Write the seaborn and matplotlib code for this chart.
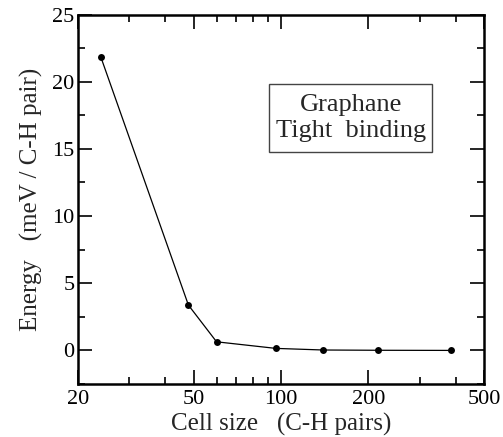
import matplotlib
matplotlib.use("Agg")
import matplotlib.pyplot as plt
import seaborn as sns
import pandas as pd
from matplotlib.patches import Rectangle
from matplotlib.ticker import FixedLocator, NullFormatter, MultipleLocator

sns.set_theme(style="ticks")
plt.rcParams["font.family"] = ["Liberation Serif", "DejaVu Serif"]

# Cell size (C-H pairs) and energy (meV per C-H pair)
cell_size = [24, 48, 60, 96, 140, 216, 384]
energy = [21.8, 3.37, 0.64, 0.15, 0.03, 0.01, 0.0]
x_major = [20, 50, 100, 200, 500]
x_minor = [30, 40, 60, 70, 80, 90, 300, 400]
y_major = [0, 5, 10, 15, 20, 25]

df = pd.DataFrame({"cell": cell_size, "energy": energy})

W, H = 503, 437
fig = plt.figure(figsize=(W / 100, H / 100), dpi=100)
ax = fig.add_axes([78 / W, 1 - 384 / H, (484 - 78) / W, (384 - 14.5) / H])

sns.lineplot(data=df, x="cell", y="energy", ax=ax, color="black", linewidth=0.9,
             marker="o", markersize=5, markeredgewidth=0, markerfacecolor="black")

ax.set_xscale("log")
ax.set_xlim(20, 500)
ax.set_ylim(-2.5, 25)
ax.xaxis.set_major_locator(FixedLocator(x_major))
ax.xaxis.set_minor_locator(FixedLocator(x_minor))
ax.xaxis.set_minor_formatter(NullFormatter())
ax.set_xticklabels([str(v) for v in x_major])
ax.yaxis.set_major_locator(FixedLocator(y_major))
ax.yaxis.set_minor_locator(MultipleLocator(2.5))

ax.tick_params(which="both", direction="in", top=True, right=True, labelsize=16,
               colors="black", width=1.2)
ax.tick_params(which="major", length=10)
ax.tick_params(axis="y", which="major", pad=2.5)
ax.tick_params(axis="x", which="major", pad=4)
ax.tick_params(which="minor", length=5)
for s in ax.spines.values():
    s.set_linewidth(1.8)
    s.set_color("black")

ax.set_xlabel("Cell size   (C-H pairs)", fontsize=18, labelpad=3)
ax.set_ylabel("Energy   (meV / C-H pair)", fontsize=18, labelpad=7)

# Annotation box with the system and method names
bx0, by0, bx1, by1 = 269.3, 84.3, 432.3, 151.7
fig.add_artist(Rectangle((bx0 / W, 1 - by1 / H), (bx1 - bx0) / W, (by1 - by0) / H,
                         transform=fig.transFigure, facecolor="white",
                         edgecolor="#444444", linewidth=1.0))
fig.text((bx0 + bx1) / 2 / W, 1 - (by0 + by1) / 2 / H, "Graphane\nTight  binding",
         ha="center", va="center", fontsize=19, linespacing=1.25)

fig.savefig("out.png", dpi=100)
